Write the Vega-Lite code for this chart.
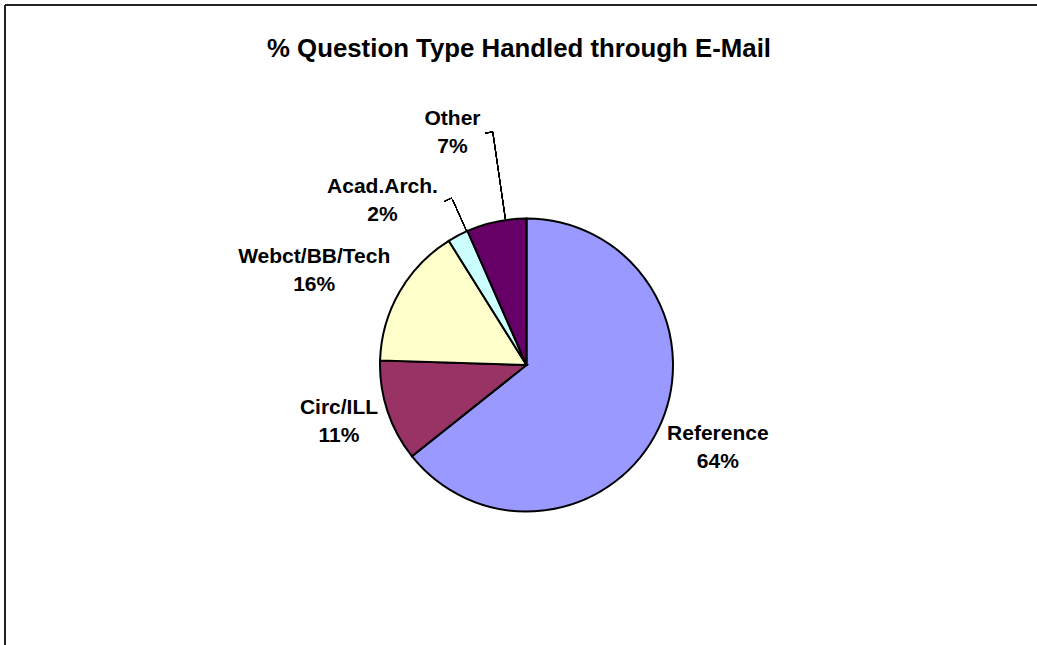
{
  "$schema": "https://vega.github.io/schema/vega-lite/v6.json",
  "autosize": {"type": "none"},
  "padding": {"left": 16, "top": 85, "right": 0, "bottom": 0},
  "width": 1021,
  "height": 560,
  "background": "white",
  "config": {"view": {"stroke": null}, "font": "Liberation Sans"},
  "title": {
    "text": "% Question Type Handled through E-Mail",
    "font": "Liberation Sans",
    "fontSize": 25.8,
    "fontWeight": "bold",
    "color": "black",
    "anchor": "middle",
    "frame": "group",
    "baseline": "alphabetic",
    "offset": -78.4,
    "dx": -7.5
  },
  "data": {
    "values": [
      {"category": "Reference", "value": 64.3},
      {"category": "Circ/ILL", "value": 11.2},
      {"category": "Webct/BB/Tech", "value": 15.6},
      {"category": "Acad.Arch.", "value": 2.3},
      {"category": "Other", "value": 6.6}
    ]
  },
  "transform": [
    {"window": [{"op": "row_number", "as": "idx"}]},
    {"joinaggregate": [{"op": "sum", "field": "value", "as": "total"}]},
    {"calculate": "[datum.category, format(datum.value / datum.total, '.0%')]", "as": "label"}
  ],
  "layer": [
    {
      "mark": {"type": "rule", "stroke": "#222222", "strokeWidth": 2, "xOffset": -11, "x2Offset": 20, "yOffset": -80, "y2Offset": -80},
      "encoding": {
        "x": {"value": 0},
        "x2": {"value": "width"},
        "y": {"value": 0},
        "y2": {"value": 0}
      }
    },
    {
      "mark": {"type": "rule", "stroke": "#222222", "strokeWidth": 2, "xOffset": -11, "x2Offset": -11, "yOffset": -80, "y2Offset": 20},
      "encoding": {
        "x": {"value": 0},
        "x2": {"value": 0},
        "y": {"value": 0},
        "y2": {"value": "height"}
      }
    },
    {
      "mark": {"type": "arc", "radius": 146.5, "stroke": "black", "strokeWidth": 2},
      "encoding": {
        "theta": {"field": "value", "type": "quantitative", "stack": true},
        "order": {"field": "idx", "type": "quantitative"},
        "color": {
          "field": "category",
          "type": "nominal",
          "scale": {
            "domain": ["Reference", "Circ/ILL", "Webct/BB/Tech", "Acad.Arch.", "Other"],
            "range": ["#9999FF", "#993366", "#FFFFCC", "#CCFFFF", "#660066"]
          },
          "legend": null
        }
      }
    },
    {
      "mark": {"type": "text", "radius": 208, "dx": 4, "dy": -21, "font": "Liberation Sans", "fontSize": 21, "fontWeight": "bold", "lineHeight": 28, "align": "center", "baseline": "middle", "color": "black"},
      "encoding": {
        "theta": {"field": "value", "type": "quantitative", "stack": true},
        "order": {"field": "idx", "type": "quantitative"},
        "text": {"condition": {"test": "datum.category === 'Reference'", "field": "label", "type": "nominal"}, "value": ""}
      }
    },
    {
      "mark": {"type": "text", "radius": 196, "dx": -1.5, "dy": -19, "font": "Liberation Sans", "fontSize": 21, "fontWeight": "bold", "lineHeight": 28, "align": "center", "baseline": "middle", "color": "black"},
      "encoding": {
        "theta": {"field": "value", "type": "quantitative", "stack": true},
        "order": {"field": "idx", "type": "quantitative"},
        "text": {"condition": {"test": "datum.category === 'Circ/ILL'", "field": "label", "type": "nominal"}, "value": ""}
      }
    },
    {
      "mark": {"type": "text", "radius": 231, "dx": -12, "dy": 7, "font": "Liberation Sans", "fontSize": 21, "fontWeight": "bold", "lineHeight": 28, "align": "center", "baseline": "middle", "color": "black"},
      "encoding": {
        "theta": {"field": "value", "type": "quantitative", "stack": true},
        "order": {"field": "idx", "type": "quantitative"},
        "text": {"condition": {"test": "datum.category === 'Webct/BB/Tech'", "field": "label", "type": "nominal"}, "value": ""}
      }
    },
    {
      "mark": {"type": "text", "radius": 218, "dx": -42, "dy": 15, "font": "Liberation Sans", "fontSize": 21, "fontWeight": "bold", "lineHeight": 28, "align": "center", "baseline": "middle", "color": "black"},
      "encoding": {
        "theta": {"field": "value", "type": "quantitative", "stack": true},
        "order": {"field": "idx", "type": "quantitative"},
        "text": {"condition": {"test": "datum.category === 'Acad.Arch.'", "field": "label", "type": "nominal"}, "value": ""}
      }
    },
    {
      "mark": {"type": "text", "radius": 243, "dx": -24, "dy": -8, "font": "Liberation Sans", "fontSize": 21, "fontWeight": "bold", "lineHeight": 28, "align": "center", "baseline": "middle", "color": "black"},
      "encoding": {
        "theta": {"field": "value", "type": "quantitative", "stack": true},
        "order": {"field": "idx", "type": "quantitative"},
        "text": {"condition": {"test": "datum.category === 'Other'", "field": "label", "type": "nominal"}, "value": ""}
      }
    },
    {
      "mark": {"type": "arc", "fill": null, "stroke": "black", "strokeWidth": 1},
      "encoding": {
        "theta": {"value": 6.1395},
        "theta2": {"value": 6.1395},
        "radius": {"value": 147},
        "radius2": {"value": 235.5}
      }
    },
    {
      "mark": {"type": "arc", "fill": null, "stroke": "black", "strokeWidth": 1},
      "encoding": {
        "theta": {"value": 6.107},
        "theta2": {"value": 6.1395},
        "radius": {"value": 235.5},
        "radius2": {"value": 235.5}
      }
    },
    {
      "mark": {"type": "arc", "fill": null, "stroke": "black", "strokeWidth": 1},
      "encoding": {
        "theta": {"value": 5.8626},
        "theta2": {"value": 5.8626},
        "radius": {"value": 147},
        "radius2": {"value": 181}
      }
    },
    {
      "mark": {"type": "arc", "fill": null, "stroke": "black", "strokeWidth": 1},
      "encoding": {
        "theta": {"value": 5.8155},
        "theta2": {"value": 5.8626},
        "radius": {"value": 183},
        "radius2": {"value": 183}
      }
    }
  ]
}
